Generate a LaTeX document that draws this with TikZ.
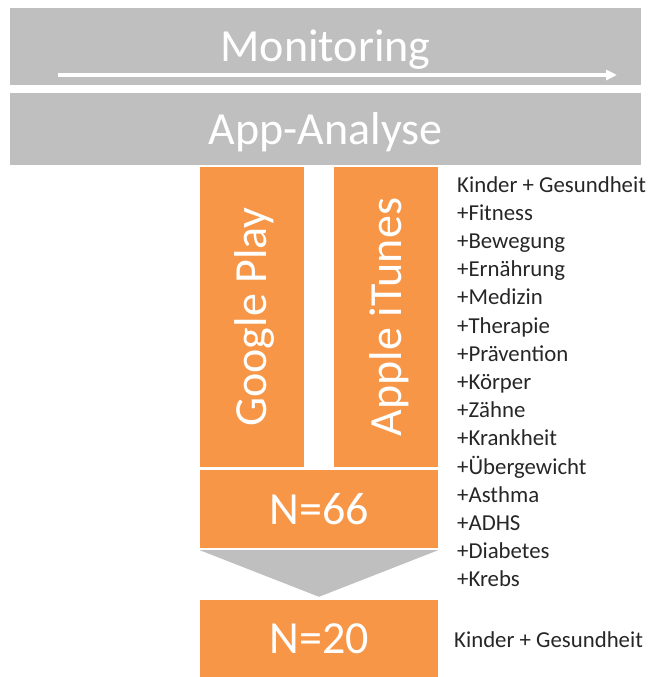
\documentclass[tikz,border=0pt]{standalone}
\usepackage{fontspec}
\setmainfont{Carlito}
\usetikzlibrary{arrows.meta}

\definecolor{bandgray}{RGB}{191,191,191}
\definecolor{boxorange}{RGB}{247,150,70}
\tikzstyle{band} = [fill=bandgray, minimum width=631pt, inner sep=0pt, text=white,
    font=\fontsize{46}{50}\selectfont, text height=30pt, text depth=0pt]
\tikzstyle{store} = [fill=boxorange, minimum width=300pt, minimum height=104pt, inner sep=0pt,
    rotate=90, text=white, font=\fontsize{46}{50}\selectfont, text height=30pt, text depth=0pt]
\tikzstyle{count} = [fill=boxorange, minimum width=238pt, inner sep=0pt, text=white,
    font=\fontsize{46}{50}\selectfont, text height=30pt, text depth=0pt]
\tikzstyle{keyword} = [anchor=base west, inner sep=0pt, text=black!85,
    font=\fontsize{22.8}{26}\selectfont]
\newcommand{\pxunit}{1pt}

\begin{document}
\begin{tikzpicture}[x=\pxunit, y=-\pxunit]
    \useasboundingbox (0,0) rectangle (652,677);
    % the two gray bands on top
    \node[band, minimum height=77pt] (monitor) at (325.5,46.5) {Monitoring};
    \node[band, minimum height=72pt] (analyse) at (325.5,129) {App-Analyse};
    \coordinate (arrs) at (58,75);
    \coordinate (arre) at (617,75);
    \draw[white, line width=3.5pt, -{Triangle[length=11pt,width=10pt]}] (arrs) -- (arre);
    % the two stores
    \node[store] (google) at (251.5,317) {Google Play};
    \node[store] (apple) at (386,317) {Apple iTunes};
    % counts and the gray funnel between them
    \node[count, minimum height=78pt] (n66) at (319,509) {N=66};
    \node[count, minimum height=77pt] (n20) at (319,638.5) {N=20};
    \fill[bandgray] ([yshift=-2pt]n66.south west) -- ([yshift=-2pt]n66.south east)
        -- ([yshift=3pt]n20.north) -- cycle;
    % search terms
    \foreach \word [count=\i from 0] in {Kinder + Gesundheit, +Fitness, +Bewegung,
        +Ernährung, +Medizin, +Therapie, +Prävention, +Körper, +Zähne, +Krankheit,
        +Übergewicht, +Asthma, +ADHS, +Diabetes, +Krebs}
        \node[keyword] (kw\i) at (457,192+28.2*\i) {\word};
    \node[keyword] (kwend) at (454,647) {Kinder + Gesundheit};
\end{tikzpicture}
\end{document}
